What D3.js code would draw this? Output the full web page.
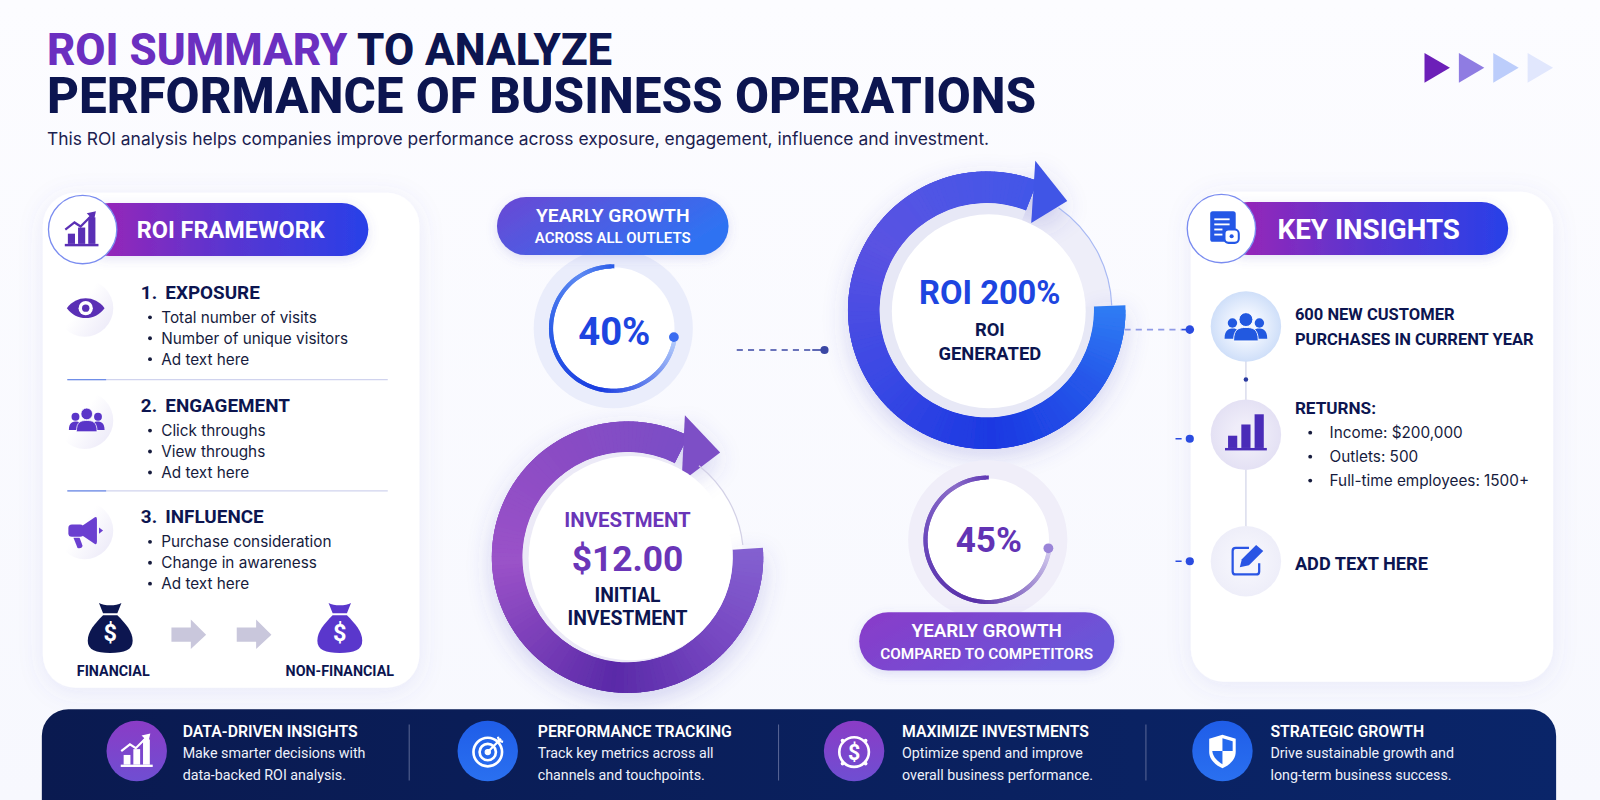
<!DOCTYPE html>
<html>
<head>
<meta charset="utf-8">
<script src="https://cdn.jsdelivr.net/npm/d3@7"></script>
<style>
  html, body { margin: 0; padding: 0; background: #fff; overflow: hidden; }
  svg { display: block; }
  text { font-family: Roboto, sans-serif; }
  .body { font-family: Inter, sans-serif; }
</style>
</head>
<body>
<svg id="chart" width="1600" height="800" viewBox="0 0 1568 784"></svg>
<script>
'use strict'

// text
const titleParts = ['ROI SUMMARY', ' TO ANALYZE'];
const titleLine2 = 'PERFORMANCE OF BUSINESS OPERATIONS';
const subtitle = 'This ROI analysis helps companies improve performance across exposure, engagement, influence and investment.';

const frameworkHeads = ['EXPOSURE', 'ENGAGEMENT', 'INFLUENCE'];
const frameworkItems = [
  ['Total number of visits', 'Number of unique visitors', 'Ad text here'],
  ['Click throughs', 'View throughs', 'Ad text here'],
  ['Purchase consideration', 'Change in awareness', 'Ad text here']
];
const bagLabels = ['FINANCIAL', 'NON-FINANCIAL'];

// values, sweep = share of the circle the drawn arc covers
const gaugeValues = [40, 45];
const gaugeSweep = [0.72, 0.72];
const gaugeTitles = ['YEARLY GROWTH', 'YEARLY GROWTH'];
const gaugeSubs = ['ACROSS ALL OUTLETS', 'COMPARED TO COMPETITORS'];
const roiValue = 200;
const investValue = 12.00;
const ringSweep = [0.815, 0.835];

const insightLines = ['600 NEW CUSTOMER', 'PURCHASES IN CURRENT YEAR'];
const returnItems = ['Income: $200,000', 'Outlets: 500', 'Full-time employees: 1500+'];

const footerHeads = ['DATA-DRIVEN INSIGHTS', 'PERFORMANCE TRACKING', 'MAXIMIZE INVESTMENTS', 'STRATEGIC GROWTH'];
const footerLine1 = ['Make smarter decisions with', 'Track key metrics across all', 'Optimize spend and improve', 'Drive sustainable growth and'];
const footerLine2 = ['data-backed ROI analysis.', 'channels and touchpoints.', 'overall business performance.', 'long-term business success.'];

const chevronColors = ['#6c1fb8', '#8f7ce2', '#bccdfb', '#e1e7fd'];

const NAVY = '#0c1550';
const INK = '#161b3d';
const TAU = Math.PI * 2;
const rad = d => d * Math.PI / 180;

const svg = d3.select('#chart');
const defs = svg.append('defs');

function linGrad(id, stops, x2 = 1, y2 = 0) {
  const g = defs.append('linearGradient').attr('id', id)
    .attr('x1', 0).attr('y1', 0).attr('x2', x2).attr('y2', y2);
  stops.forEach((c, i) => g.append('stop').attr('offset', i / (stops.length - 1)).attr('stop-color', c));
}
function radGrad(id, inner, outer) {
  const g = defs.append('radialGradient').attr('id', id);
  g.append('stop').attr('offset', '35%').attr('stop-color', inner);
  g.append('stop').attr('offset', '100%').attr('stop-color', outer);
}
function shadow(id, dy, blur, color, op) {
  const f = defs.append('filter').attr('id', id)
    .attr('x', '-30%').attr('y', '-30%').attr('width', '160%').attr('height', '160%');
  f.append('feDropShadow').attr('dx', 0).attr('dy', dy).attr('stdDeviation', blur)
    .attr('flood-color', color).attr('flood-opacity', op);
}

linGrad('bg', ['#fcfcff', '#f7f8fe'], 0, 1);
linGrad('headPill', ['#a024b4', '#5a35d0', '#2840e8']);
linGrad('bluePill', ['#6a48d4', '#2f72f2'], 1, 0.4);
linGrad('purplePill', ['#8a3bc9', '#6a55d8'], 1, 0.4);
linGrad('band', ['#0a1a50', '#0a2569']);
linGrad('footPurple', ['#8a3cc6', '#6f4ed2'], 0, 1);
linGrad('footBlue', ['#1f5de8', '#2a70f0'], 0, 1);
linGrad('softPurple', ['#ffffff', '#ffffff', '#eeecf9'], 1, 0.7);
radGrad('softBlue', '#f3f7ff', '#cfdff9');
radGrad('softLav', '#efedf9', '#e4e1f4');
radGrad('softPale', '#f5f5fc', '#eeeef9');
shadow('cardShadow', 4, 12, '#5a5fc8', 0.10);
shadow('pillShadow', 3, 5, '#5a5fc8', 0.18);
shadow('ringShadow', 8, 12, '#4a4fc0', 0.22);

svg.append('rect').attr('width', 1568).attr('height', 784).attr('fill', 'url(#bg)');

// title
const t1 = svg.append('text').attr('x', 46).attr('y', 64)
  .attr('font-size', 43).attr('font-weight', 800).attr('fill', NAVY);
t1.append('tspan').attr('fill', '#6b2fc0').text(titleParts[0]);
t1.append('tspan').attr('xml:space', 'preserve').style('white-space', 'pre').text(titleParts[1]);
svg.append('text').attr('x', 46).attr('y', 111)
  .attr('font-size', 48.4).attr('font-weight', 800).attr('fill', NAVY).text(titleLine2);
svg.append('text').attr('class', 'body').attr('x', 46).attr('y', 142)
  .attr('font-size', 17.08).attr('fill', '#1b2150').text(subtitle);

// chevrons
const chevX = d3.scaleBand().domain(d3.range(chevronColors.length)).range([1396, 1522]).paddingInner(0.26).paddingOuter(0);
svg.append('g').selectAll('path').data(chevronColors).join('path')
  .attr('fill', d => d)
  .attr('d', (d, i) => {
    const x = chevX(i), w = chevX.bandwidth();
    return d3.line()([[x, 52], [x + w, 66.5], [x, 81]]) + 'Z';
  });

// cards
function card(x, y, w, h) {
  svg.append('rect').attr('x', x).attr('y', y).attr('width', w).attr('height', h)
    .attr('rx', 32).attr('fill', '#fff').attr('filter', 'url(#cardShadow)');
}
card(42, 189, 369, 485);
card(1167, 188, 355, 480);

function header(cx, cy, right, label, size, textX) {
  svg.append('rect').attr('x', cx).attr('y', cy - 26).attr('width', right - cx).attr('height', 52)
    .attr('rx', 26).attr('fill', 'url(#headPill)').attr('filter', 'url(#pillShadow)');
  svg.append('circle').attr('cx', cx).attr('cy', cy).attr('r', 33.5)
    .attr('fill', '#fff').attr('stroke', '#7a8cf0').attr('stroke-width', 1.3);
  svg.append('text').attr('x', textX).attr('y', cy).attr('dy', '0.36em')
    .attr('font-size', size).attr('font-weight', 700).attr('fill', '#fff').text(label);
}
header(81, 225, 361, 'ROI FRAMEWORK', 23, 134);
header(1197, 224, 1478, 'KEY INSIGHTS', 27.2, 1252);

// icons, all drawn around 0,0
function icon(x, y) { return svg.append('g').attr('transform', `translate(${x},${y})`); }
function bars(g, color, hs, w, gap, base) {
  hs.forEach((h, i) => g.append('rect')
    .attr('x', (i - (hs.length - 1) / 2) * (w + gap) - w / 2).attr('y', base - h)
    .attr('width', w).attr('height', h).attr('fill', color));
  const half = ((hs.length - 1) / 2) * (w + gap) + w / 2 + 3;
  g.append('rect').attr('x', -half).attr('y', base).attr('width', half * 2).attr('height', 2.4).attr('fill', color);
}
function chartIcon(g, color) {
  bars(g, color, [10, 16, 26], 7, 3, 13);
  g.append('path').attr('fill', 'none').attr('stroke', color).attr('stroke-width', 2.2)
    .attr('d', 'M-16,-1 L-7,-8 L-1,-4 L9,-14');
  g.append('path').attr('fill', color).attr('d', 'M5,-17 L14,-19 L12,-10Z');
}
function people(g, color, s) {
  const p = g.append('g').attr('fill', color).attr('transform', `scale(${s})`);
  p.append('circle').attr('cx', -12).attr('cy', -5).attr('r', 4.2);
  p.append('circle').attr('cx', 12).attr('cy', -5).attr('r', 4.2);
  p.append('path').attr('d', 'M-19,9 C-19,1 -15,0 -11,0 C-8,0 -7,2 -8,4 L-10,9Z');
  p.append('path').attr('d', 'M19,9 C19,1 15,0 11,0 C8,0 7,2 8,4 L10,9Z');
  p.append('circle').attr('cx', 0).attr('cy', -8).attr('r', 6.2).attr('stroke', '#fff').attr('stroke-width', 0.8);
  p.append('path').attr('stroke', '#fff').attr('stroke-width', 0.8)
    .attr('d', 'M-11,11 C-11,0 -6,-1 0,-1 C6,-1 11,0 11,11Z');
}
function softCircle(x, y, r, fill) {
  svg.append('circle').attr('cx', x).attr('cy', y).attr('r', r).attr('fill', fill);
}

chartIcon(icon(80, 226), '#5a2fb5');
const clip = icon(1199, 223);
clip.append('rect').attr('x', -13).attr('y', -16).attr('width', 25).attr('height', 30).attr('rx', 2.5).attr('fill', '#2457e6');
[-9, -4, 1, 6].forEach((y, i) => clip.append('rect').attr('x', -9).attr('y', y).attr('width', i < 2 ? 15 : 8).attr('height', 1.8).attr('fill', '#fff'));
clip.append('rect').attr('x', 1).attr('y', 2).attr('width', 14).attr('height', 13).attr('rx', 4).attr('fill', '#fff').attr('stroke', '#2457e6').attr('stroke-width', 2);
clip.append('circle').attr('cx', 8).attr('cy', 8.5).attr('r', 2).attr('fill', '#2457e6');

// framework sections
const sectionY = [286, 397, 506];
const sectionIconY = [302, 412, 520];
frameworkHeads.forEach((head, i) => {
  const y = sectionY[i];
  softCircle(83, sectionIconY[i], 28, 'url(#softPurple)');
  svg.append('text').attr('x', 138).attr('y', y).attr('dy', '0.36em')
    .attr('font-size', 18.5).attr('font-weight', 700).attr('fill', NAVY)
    .text(`${i + 1}.`);
  svg.append('text').attr('x', 162).attr('y', y).attr('dy', '0.36em')
    .attr('font-size', 18.5).attr('font-weight', 700).attr('fill', NAVY).text(head);
  frameworkItems[i].forEach((item, j) => {
    const iy = y + 25 + j * 20.5;
    svg.append('circle').attr('cx', 147).attr('cy', iy).attr('r', 1.9).attr('fill', INK);
    svg.append('text').attr('class', 'body').attr('x', 158).attr('y', iy).attr('dy', '0.36em')
      .attr('font-size', 15).attr('fill', INK).text(item);
  });
});
[372, 481].forEach(y => {
  svg.append('line').attr('x1', 66).attr('x2', 380).attr('y1', y).attr('y2', y).attr('stroke', '#d0d3ee').attr('stroke-width', 1.2);
  svg.append('line').attr('x1', 66).attr('x2', 104).attr('y1', y).attr('y2', y).attr('stroke', '#6f8ee8').attr('stroke-width', 1.2);
});

const eye = icon(84, 302);
eye.append('path').attr('fill', '#5a2fb5').attr('d', 'M-18.5,0 C-9,-13 9,-13 18.5,0 C9,13 -9,13 -18.5,0Z');
eye.append('circle').attr('r', 7).attr('fill', '#fff');
eye.append('circle').attr('r', 3.6).attr('fill', '#5a2fb5');
people(icon(85, 413), '#5a35c8', 0.92);
const mega = icon(84, 520).attr('fill', '#6a3fd0');
mega.append('path').attr('d', 'M-3,-5 L9,-13 Q11,-14 11,-11 V11 Q11,14 9,13 L-3,5Z');
mega.append('rect').attr('x', -17).attr('y', -6).attr('width', 15).attr('height', 12).attr('rx', 3.5);
mega.append('path').attr('d', 'M-12,7 L-6,7 L-3,15 Q-4,18 -8,17Z');
mega.append('path').attr('d', 'M13,-3 L17,0 L13,3Z');

// money bags
function bag(x, y, color) {
  const g = icon(x, y).attr('fill', color);
  g.append('path').attr('d', 'M-11,-25 C-6,-22 6,-22 11,-25 L7,-15 H-7Z');
  g.append('path').attr('d', 'M-7,-13 H7 C15,-5 22,3 22,12 C22,21 14,24 0,24 C-14,24 -22,21 -22,12 C-22,3 -15,-5 -7,-13Z');
  g.append('text').attr('y', 12).attr('text-anchor', 'middle').attr('font-size', 23).attr('font-weight', 700).attr('fill', '#fff').text('$');
}
bag(108, 616, '#0c1650');
bag(333, 616, '#5a37cc');
[168, 232].forEach(x => {
  svg.append('path').attr('fill', '#c9c7dc')
    .attr('d', d3.line()([[x, 615], [x + 19, 615], [x + 19, 607], [x + 34, 622], [x + 19, 636], [x + 19, 629], [x, 629]]) + 'Z');
});
bagLabels.forEach((label, i) => {
  svg.append('text').attr('x', [111, 333][i]).attr('y', 657).attr('dy', '0.36em').attr('text-anchor', 'middle')
    .attr('font-size', 14).attr('font-weight', 700).attr('fill', NAVY).text(label);
});

// big rings with arrow head, drawn as many short arcs so the colour follows the angle
const arc = d3.arc();
function bigRing(o) {
  const g = svg.append('g').attr('transform', `translate(${o.cx},${o.cy})`);
  const angle = d3.scaleLinear().domain([0, 1]).range([o.start, o.start + o.sweep * TAU]);
  const colorAt = d3.scaleLinear().domain(o.colorStops).range(o.colors).interpolate(d3.interpolateRgb);
  const parts = d3.range(0, 1, 1 / 160);
  const polar = (r, a) => [r * Math.sin(rad(a)), -r * Math.cos(rad(a))];

  g.append('circle').attr('r', o.thin).attr('fill', o.wedge);
  const band = g.append('g').attr('filter', 'url(#ringShadow)');
  band.selectAll('path').data(parts).join('path')
    .attr('fill', d => colorAt(d))
    .attr('d', d => arc({ innerRadius: o.inner, outerRadius: o.outer, startAngle: angle(d), endAngle: angle(Math.min(1, d + 1 / 50)) }));
  band.append('path').attr('fill', o.arrow)
    .attr('d', d3.line()([polar(o.inner + o.head[0], o.head[1]), polar(o.inner + o.head[2], o.head[3]), polar(o.inner + o.head[4], o.head[5])]) + 'Z');
  g.append('path').attr('fill', o.shade)
    .attr('d', arc({ innerRadius: 0, outerRadius: o.inner, startAngle: angle(0), endAngle: angle(1) }));
  g.append('circle').attr('cx', o.disc[0]).attr('cy', o.disc[1]).attr('r', o.disc[2]).attr('fill', '#fff');
  const thin = d3.arc()({ innerRadius: o.thin, outerRadius: o.thin + 1.2, startAngle: rad(o.thinFrom), endAngle: rad(o.thinTo) });
  g.append('path').attr('d', thin).attr('fill', o.thinColor);
  return g;
}

bigRing({
  cx: 967, cy: 304, outer: 136, inner: 105, start: rad(88), sweep: ringSweep[0],
  colorStops: [0, 0.12, 0.3, 0.52, 0.72, 1],
  colors: ['#2f7cf4', '#2658ea', '#1b39e2', '#3c49e4', '#5a52e2', '#4257e8'],
  arrow: '#3f55e6', head: [49, 18, 28, 36.4, -9, 27],
  shade: '#e7e8f6', disc: [2, 1, 95], wedge: '#eeeef9',
  thin: 122, thinFrom: 35, thinTo: 88, thinColor: '#a9b9f3'
});
bigRing({
  cx: 615, cy: 546, outer: 133, inner: 103, start: rad(86), sweep: ringSweep[1],
  colorStops: [0, 0.15, 0.33, 0.6, 0.8, 1],
  colors: ['#8360d0', '#7748c2', '#5a2aa8', '#9a52c8', '#8a4cc4', '#7a4ec6'],
  arrow: '#7d4fc6', head: [47, 22, 34, 41.5, -12, 35.6],
  shade: '#eceaf7', disc: [3, 1, 100], wedge: '#ffffff',
  thin: 113, thinFrom: 38, thinTo: 84, thinColor: '#d3d1e6'
});

svg.append('text').attr('x', 970).attr('y', 286).attr('dy', '0.36em').attr('text-anchor', 'middle')
  .attr('font-size', 32).attr('font-weight', 700).attr('fill', '#1d45e0').text(`ROI ${roiValue}%`);
svg.append('text').attr('x', 970).attr('y', 323).attr('dy', '0.36em').attr('text-anchor', 'middle')
  .attr('font-size', 18).attr('font-weight', 700).attr('fill', NAVY).text('ROI');
svg.append('text').attr('x', 970).attr('y', 346).attr('dy', '0.36em').attr('text-anchor', 'middle')
  .attr('font-size', 18).attr('font-weight', 700).attr('fill', NAVY).text('GENERATED');

svg.append('text').attr('x', 615).attr('y', 509).attr('dy', '0.36em').attr('text-anchor', 'middle')
  .attr('font-size', 20).attr('font-weight', 700).attr('fill', '#6a35b8').text('INVESTMENT');
svg.append('text').attr('x', 615).attr('y', 547).attr('dy', '0.36em').attr('text-anchor', 'middle')
  .attr('font-size', 34.7).attr('font-weight', 700).attr('fill', '#6a35b8').text(`$${investValue.toFixed(2)}`);
svg.append('text').attr('x', 615).attr('y', 583).attr('dy', '0.36em').attr('text-anchor', 'middle')
  .attr('font-size', 19).attr('font-weight', 700).attr('fill', NAVY).text('INITIAL');
svg.append('text').attr('x', 615).attr('y', 606).attr('dy', '0.36em').attr('text-anchor', 'middle')
  .attr('font-size', 19).attr('font-weight', 700).attr('fill', NAVY).text('INVESTMENT');

// small gauges
function gauge(i, cx, cy, o) {
  const g = svg.append('g').attr('transform', `translate(${cx},${cy})`);
  g.append('circle').attr('r', 78).attr('fill', o.halo);
  g.append('circle').attr('r', 60).attr('fill', '#fff');
  const angle = d3.scaleLinear().domain([0, 1]).range([rad(1), rad(1) - gaugeSweep[i] * TAU]);
  const colorAt = d3.scaleLinear().domain([0, 0.12, 0.35, 0.65, 1]).range(o.colors);
  g.append('g').selectAll('path').data(d3.range(0, 1, 1 / 100)).join('path')
    .attr('fill', d => colorAt(d))
    .attr('d', d => arc({ innerRadius: 59, outerRadius: 63, startAngle: angle(d), endAngle: angle(Math.min(1, d + 1 / 50)) }));
  const a = rad(98);
  g.append('circle').attr('cx', 60 * Math.sin(a)).attr('cy', -60 * Math.cos(a)).attr('r', 4.8).attr('fill', o.dot);
  svg.append('text').attr('x', cx + 1).attr('y', cy + o.dy).attr('dy', '0.36em').attr('text-anchor', 'middle')
    .attr('font-size', o.size).attr('font-weight', 700).attr('fill', o.text).text(`${gaugeValues[i]}%`);
}
gauge(0, 601, 322, { halo: '#eaedfb', dot: '#3a6cf0', text: '#1d45e0', size: 37.5, dy: 3, colors: ['#2a5ce8', '#5d8af2', '#2d5ee8', '#1a3de0', '#b5cdfb'] });
gauge(1, 968, 529, { halo: '#f0eef9', dot: '#9a84d8', text: '#6233b4', size: 34.4, dy: 0, colors: ['#5f38b4', '#8a6cc8', '#6a48bc', '#5830a8', '#d3cbee'] });

// pills
function pill(x, y, w, i, fill, s1, s2) {
  svg.append('rect').attr('x', x).attr('y', y).attr('width', w).attr('height', 57).attr('rx', 28.5)
    .attr('fill', fill).attr('filter', 'url(#pillShadow)');
  svg.append('text').attr('x', x + w / 2).attr('y', y + 18).attr('dy', '0.36em').attr('text-anchor', 'middle')
    .attr('font-size', s1).attr('font-weight', 600).attr('fill', '#fff').text(gaugeTitles[i]);
  svg.append('text').attr('x', x + w / 2).attr('y', y + 40).attr('dy', '0.36em').attr('text-anchor', 'middle')
    .attr('font-size', s2).attr('font-weight', 600).attr('fill', '#fff').text(gaugeSubs[i]);
}
pill(487, 193, 227, 0, 'url(#bluePill)', 18.9, 14.7);
pill(842, 600, 250, 1, 'url(#purplePill)', 18.5, 15);

// connectors
function connector(x1, x2, y, dashColor, color, dotR, solid) {
  svg.append('line').attr('x1', x1).attr('x2', x2 - solid).attr('y1', y).attr('y2', y)
    .attr('stroke', dashColor).attr('stroke-width', 1.6).attr('stroke-dasharray', '6 5');
  svg.append('line').attr('x1', x2 - solid).attr('x2', x2).attr('y1', y).attr('y2', y)
    .attr('stroke', color).attr('stroke-width', 1.6);
  svg.append('circle').attr('cx', x2).attr('cy', y).attr('r', dotR).attr('fill', color);
}
connector(722, 808, 343, '#3a47a4', '#3a47a4', 4, 12);
connector(1102, 1166, 323, '#8f9ae6', '#2a4be0', 4.2, 8);
connector(1152, 1166, 430, '#2a4be0', '#2a4be0', 4, 0);
connector(1152, 1166, 550, '#2a4be0', '#2a4be0', 4, 0);

// insights column
const insightX = 1221;
const insightY = [320, 426, 550];
const insightFill = ['url(#softBlue)', 'url(#softLav)', 'url(#softPale)'];
svg.append('line').attr('x1', insightX).attr('x2', insightX).attr('y1', insightY[0]).attr('y2', insightY[2])
  .attr('stroke', '#d5d7ea').attr('stroke-width', 1.3);
svg.append('circle').attr('cx', insightX).attr('cy', 372).attr('r', 2.2).attr('fill', '#2a3aa0');
insightY.forEach((y, i) => softCircle(insightX, y, 34.5, insightFill[i]));

people(icon(insightX, 322), '#2259e0', 1.1);
bars(icon(insightX, 424), '#4a2cb8', [12, 23, 33], 9, 4, 15);
const edit = icon(insightX + 1, 549);
edit.append('path').attr('fill', 'none').attr('stroke', '#2a55e4').attr('stroke-width', 2.2)
  .attr('d', 'M2,-12 H-11 Q-14,-12 -14,-9 V11 Q-14,14 -11,14 H9 Q12,14 12,11 V3');
edit.append('path').attr('fill', '#2a55e4').attr('d', 'M-7,7 L-5,-1 L9,-15 L16,-9 L2,5Z');

insightLines.forEach((line, i) => {
  svg.append('text').attr('x', 1269).attr('y', 308 + i * 24.5).attr('dy', '0.36em')
    .attr('font-size', 16.2).attr('font-weight', 700).attr('fill', NAVY).text(line);
});
svg.append('text').attr('x', 1269).attr('y', 400).attr('dy', '0.36em')
  .attr('font-size', 16.8).attr('font-weight', 700).attr('fill', NAVY).text('RETURNS:');
returnItems.forEach((item, i) => {
  const y = 424 + i * 23.5;
  svg.append('circle').attr('cx', 1284).attr('cy', y).attr('r', 1.9).attr('fill', INK);
  svg.append('text').attr('class', 'body').attr('x', 1303).attr('y', y).attr('dy', '0.36em')
    .attr('font-size', 15).attr('fill', INK).text(item);
});
svg.append('text').attr('x', 1269).attr('y', 552).attr('dy', '0.36em')
  .attr('font-size', 17.8).attr('font-weight', 700).attr('fill', NAVY).text('ADD TEXT HERE');

// footer band
svg.append('rect').attr('x', 41).attr('y', 695).attr('width', 1484).attr('height', 120).attr('rx', 26).attr('fill', 'url(#band)');
const footIconX = [134, 478, 837, 1198];
const footTextX = [179, 527, 884, 1245];
const footFill = ['url(#footPurple)', 'url(#footBlue)', 'url(#footPurple)', 'url(#footBlue)'];
footerHeads.forEach((head, i) => {
  softCircle(footIconX[i], 736, 29.6, footFill[i]);
  svg.append('text').attr('x', footTextX[i]).attr('y', 717).attr('dy', '0.36em')
    .attr('font-size', 15.5).attr('font-weight', 600).attr('fill', '#fff').text(head);
  svg.append('text').attr('x', footTextX[i]).attr('y', 738).attr('dy', '0.36em')
    .attr('font-size', 14).attr('fill', '#eef1fb').text(footerLine1[i]);
  svg.append('text').attr('x', footTextX[i]).attr('y', 759).attr('dy', '0.36em')
    .attr('font-size', 14).attr('fill', '#eef1fb').text(footerLine2[i]);
});
[401, 763, 1123].forEach(x => {
  svg.append('line').attr('x1', x).attr('x2', x).attr('y1', 710).attr('y2', 765).attr('stroke', '#5a6796').attr('stroke-width', 1);
});

chartIcon(icon(footIconX[0], 737).attr('transform', `translate(${footIconX[0]},737) scale(0.95)`), '#fff');
const target = icon(footIconX[1], 737).attr('fill', 'none').attr('stroke', '#fff');
target.append('circle').attr('r', 14).attr('stroke-width', 2.6);
target.append('circle').attr('r', 8).attr('stroke-width', 2.6);
target.append('circle').attr('r', 2.6).attr('fill', '#fff');
target.append('path').attr('stroke-width', 2.2).attr('d', 'M0,0 L13,-13 M10,-15 L11,-11 L15,-10');
const dollar = icon(footIconX[2], 737);
dollar.append('circle').attr('r', 14.5).attr('fill', 'none').attr('stroke', '#fff').attr('stroke-width', 2.6);
[45, 135, 225, 315].forEach(a => dollar.append('circle')
  .attr('cx', 16 * Math.sin(rad(a))).attr('cy', -16 * Math.cos(rad(a))).attr('r', 1.8).attr('fill', '#fff'));
dollar.append('text').attr('y', 7.5).attr('text-anchor', 'middle').attr('font-size', 21).attr('font-weight', 700).attr('fill', '#fff').text('$');
const shield = icon(footIconX[3], 736);
shield.append('path').attr('fill', '#fff').attr('d', 'M0,-16 L13,-12 V1 C13,9 6,14 0,17 C-6,14 -13,9 -13,1 V-12Z');
shield.append('path').attr('fill', '#2469ee').attr('d', 'M0,-12.5 L10,-9.5 V0 H0Z M0,0 H-10 C-9,7 -4,10.5 0,13Z');
</script>
</body>
</html>
